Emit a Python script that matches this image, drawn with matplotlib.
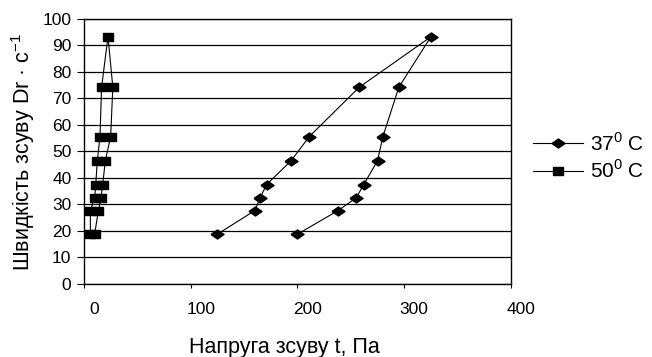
import numpy as np
import matplotlib
matplotlib.use("Agg")
import matplotlib.pyplot as plt
import matplotlib.transforms as mtrans

plt.rcParams['font.family'] = ['Liberation Sans', 'DejaVu Sans']
plt.rcParams['mathtext.fontset'] = 'custom'
plt.rcParams['mathtext.rm'] = 'Liberation Sans'

# shear rate levels (s^-1), up branch then down branch
rate = [18.8, 27.7, 32.5, 37.5, 46.5, 55.6, 74.3, 93.3,
        74.3, 55.6, 46.5, 37.5, 32.5, 27.7, 18.8]
# shear stress, Pa
stress37 = [125, 160, 165, 171, 194, 211, 258, 325,
            295, 280, 275, 262, 255, 238, 200]
stress50 = [6, 6, 10, 11, 12.5, 15, 16.5, 22.5,
            27, 25, 20, 17.5, 16, 13.5, 10]
labels = ["37$^0$ C", "50$^0$ C"]

diamond = [(-1.45, 0), (0, 1), (1.45, 0), (0, -1), (-1.45, 0)]
rect = [(-1.33, -1), (1.33, -1), (1.33, 1), (-1.33, 1), (-1.33, -1)]

fig = plt.figure(figsize=(6.52, 3.57), dpi=100)
ax = fig.add_axes([0.1288, 0.2045, 0.6549, 0.7423])

l1, = ax.plot(stress37, rate, color='black', lw=0.8, marker=diamond,
              markersize=9.4, mfc='black', mec='black')
l2, = ax.plot(stress50, rate, color='black', lw=0.8, marker=rect,
              markersize=7.7, mfc='black', mec='black')

ax.set_xlim(0, 400)
ax.set_ylim(0, 100)
ax.set_xticks([0, 100, 200, 300, 400])
ax.set_yticks(range(0, 101, 10))
ax.yaxis.grid(True, color='black', lw=0.9)
ax.set_axisbelow(True)
for s in ax.spines.values():
    s.set_color('black')
    s.set_linewidth(1.0)

ax.tick_params(axis='y', direction='out', length=5, width=0.8, pad=4, labelsize=12.5)
ax.tick_params(axis='x', direction='out', length=3, width=0.8, pad=10, labelsize=12.5)
shift = mtrans.ScaledTranslation(10 / 100, 0, fig.dpi_scale_trans)
for lab in ax.get_xticklabels():
    lab.set_transform(lab.get_transform() + shift)

ax.set_xlabel("Напруга зсуву t, Па", fontsize=15.5, labelpad=14)
ax.xaxis.set_label_coords(0.47, -0.2)
ax.set_ylabel("Швидкість зсуву Dr · с$^{-1}$", fontsize=15.5, labelpad=4)

fig.legend([l1, l2], labels, loc='center left', bbox_to_anchor=(0.805, 0.56),
           frameon=False, fontsize=15, handlelength=2.4, handletextpad=0.35,
           labelspacing=0.25, borderaxespad=0)

fig.savefig("out.png", dpi=100)
